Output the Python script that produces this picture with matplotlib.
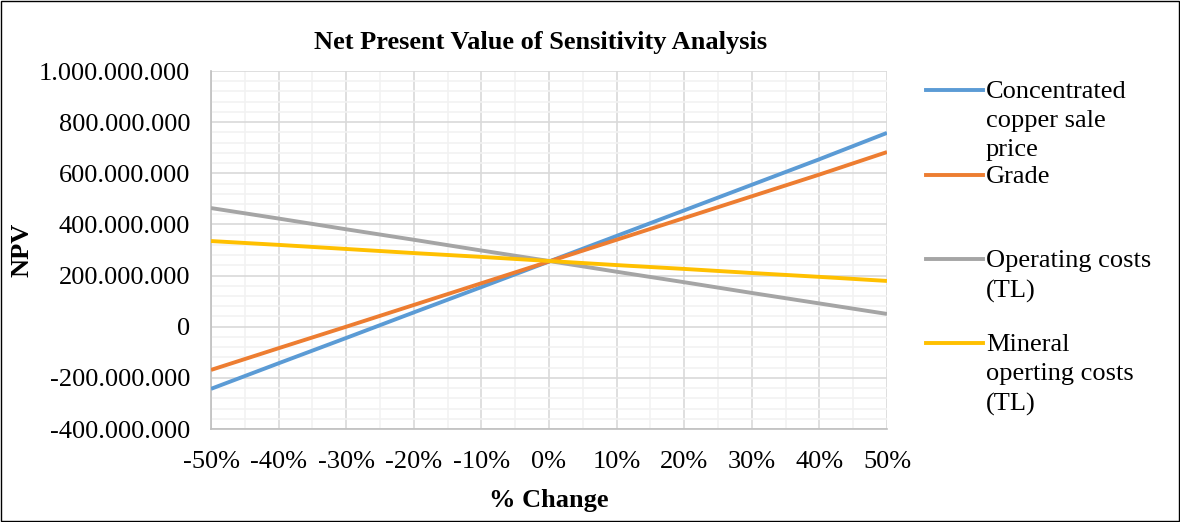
import matplotlib.pyplot as plt
from matplotlib.lines import Line2D
from matplotlib.ticker import FuncFormatter, MultipleLocator

plt.rcParams['font.family'] = ['Liberation Serif', 'DejaVu Serif']

# % change in each parameter
change = [-50, -40, -30, -20, -10, 0, 10, 20, 30, 40, 50]

# NPV (TL), in millions
copper_price = [-243, -143, -44, 56, 155, 255, 355, 455, 555, 655, 758]
grade = [-169, -84, 0, 85, 170, 255, 340, 425, 510, 595, 683]
operating_costs = [464, 423, 381, 340, 298, 257, 215, 174, 132, 91, 50]
mineral_costs = [335, 320, 304, 288, 273, 257, 241, 226, 210, 195, 179]

labels = ["Concentrated\ncopper sale\nprice", "Grade",
          "Operating costs\n(TL)", "Mineral\noperting costs\n(TL)"]
colors = ["#5b9bd5", "#ed7d31", "#a5a5a5", "#ffc000"]

fig = plt.figure(figsize=(11.8, 5.22), dpi=100)
ax = fig.add_axes([211 / 1180, 1 - 429 / 522, 676 / 1180, 358 / 522])

series = [copper_price, grade, operating_costs, mineral_costs]
for vals, c in zip(series, colors):
    ax.plot(change, [v * 1e6 for v in vals], color=c, lw=2.8, solid_capstyle='butt', zorder=3)

ax.set_xlim(-50, 50)
ax.set_ylim(-400e6, 1000e6)
ax.xaxis.set_major_locator(MultipleLocator(10))
ax.xaxis.set_minor_locator(MultipleLocator(5))
ax.yaxis.set_major_locator(MultipleLocator(200e6))
ax.yaxis.set_minor_locator(MultipleLocator(40e6))
ax.grid(which='major', color='#d9d9d9', lw=1.2)
ax.grid(which='minor', color='#f2f2f2', lw=1.2)
ax.set_axisbelow(True)

ax.xaxis.set_major_formatter(FuncFormatter(lambda v, p: f"{int(round(v))}%"))
ax.yaxis.set_major_formatter(FuncFormatter(lambda v, p: f"{int(round(v)):,}".replace(",", ".")))
ax.tick_params(which='both', length=0, labelsize=19)
ax.tick_params(axis='x', pad=16)
ax.tick_params(axis='y', pad=15)

for s in ['top', 'right']:
    ax.spines[s].set_visible(False)
for s in ['left', 'bottom']:
    ax.spines[s].set_color('#bfbfbf')
    ax.spines[s].set_linewidth(1.2)

fig.text(541 / 1180, 1 - 42 / 522, "Net Present Value of Sensitivity Analysis",
         fontsize=19, fontweight='bold', ha='center', va='center')
fig.text(549 / 1180, 1 - 500 / 522, "% Change", fontsize=19, fontweight='bold',
         ha='center', va='center')
fig.text(22 / 1180, 1 - 250 / 522, "NPV", fontsize=19, fontweight='bold',
         ha='center', va='center', rotation=90)

# legend drawn to the right, handles level with first text line
legend_y = [90, 175, 259, 343]
for lab, c, yp in zip(labels, colors, legend_y):
    yf = 1 - yp / 522
    fig.add_artist(Line2D([926 / 1180, 983 / 1180], [yf, yf], color=c, lw=2.8,
                          transform=fig.transFigure))
    fig.text(986 / 1180, yf + 9 / 522, lab, fontsize=19, va='top', ha='left',
             linespacing=1.42)

# outer frame
fig.add_artist(plt.Rectangle((0.001, 0.001), 0.998, 0.997, fill=False, ec='black',
                             lw=1.0, transform=fig.transFigure))

fig.savefig("out.png", dpi=100)
